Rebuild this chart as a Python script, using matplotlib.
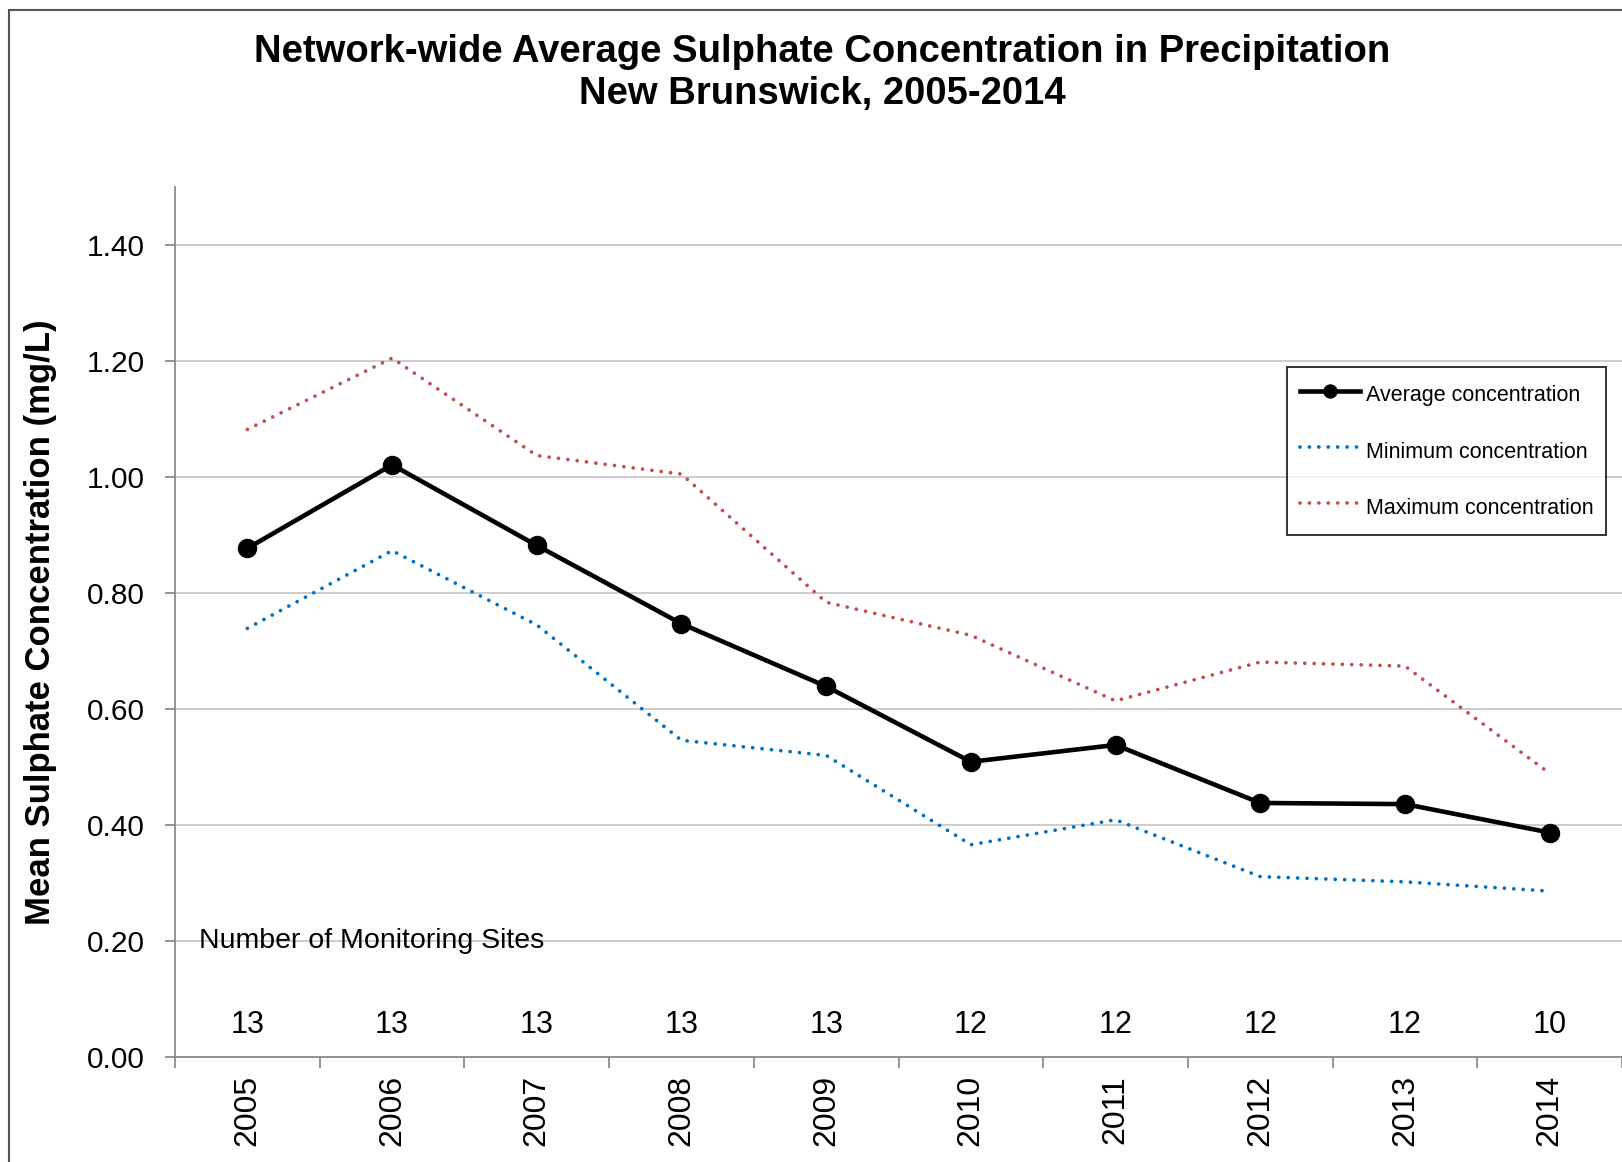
import matplotlib
matplotlib.use("Agg")
import matplotlib.pyplot as plt
from matplotlib.patches import Rectangle
import numpy as np

years = ["2005", "2006", "2007", "2008", "2009", "2010", "2011", "2012", "2013", "2014"]
average = [0.877, 1.021, 0.882, 0.747, 0.639, 0.509, 0.538, 0.438, 0.436, 0.387]
minimum = [0.739, 0.873, 0.745, 0.546, 0.520, 0.366, 0.409, 0.311, 0.302, 0.286]
maximum = [1.082, 1.205, 1.037, 1.005, 0.784, 0.727, 0.614, 0.681, 0.674, 0.489]
sites = [13, 13, 13, 13, 13, 12, 12, 12, 12, 10]
yticks = [0.0, 0.2, 0.4, 0.6, 0.8, 1.0, 1.2, 1.4]

plt.rcParams['font.family'] = ['Liberation Sans', 'DejaVu Sans']

W, H = 1622, 1162
AX_L, AX_R, AX_T, AX_B = 175, 1622, 187, 1057
fig = plt.figure(figsize=(W / 100, H / 100), dpi=100)
ax = fig.add_axes([AX_L / W, 1 - AX_B / H, (AX_R - AX_L) / W, (AX_B - AX_T) / H])

x = np.arange(len(years))
spine_col = '#8c8c8c'
grid_col = '#c8c8c8'

ax.plot(x, maximum, color='#C0504D', lw=2.7, linestyle=(0, (0.01, 2.5)),
        dash_capstyle='round', label='Maximum concentration', zorder=3)
ax.plot(x, minimum, color='#0070C0', lw=2.7, linestyle=(0, (0.01, 2.5)),
        dash_capstyle='round', label='Minimum concentration', zorder=3)
ax.plot(x, average, color='black', lw=3.3, marker='o', markersize=13,
        label='Average concentration', zorder=4)

ax.set_xlim(-0.5, len(years) - 0.5)
ax.set_ylim(0, 1.5)
ax.set_yticks(yticks)
ax.set_yticklabels([f"{v:.2f}" for v in yticks], fontsize=21.5)
ax.yaxis.grid(True, color=grid_col, lw=1.3)
ax.set_axisbelow(True)

ax.set_xticks(x)
ax.set_xticklabels(years, rotation=90, fontsize=23)
ax.set_xticks(np.arange(-0.5, len(years), 1.0), minor=True)
ax.tick_params(axis='x', which='major', length=0, pad=13)
ax.tick_params(axis='x', which='minor', length=8, color=spine_col, width=1.3)
ax.tick_params(axis='y', which='major', length=7, color=spine_col, width=1.3, pad=15)

for s in ['top', 'right']:
    ax.spines[s].set_visible(False)
for s in ['left', 'bottom']:
    ax.spines[s].set_color(spine_col)
    ax.spines[s].set_linewidth(1.3)

for xi, n in zip(x, sites):
    ax.text(xi, 0.056, str(n), ha='center', va='center', fontsize=22)
ax.text(-0.335, 0.2, "Number of Monitoring Sites", ha='left', va='center', fontsize=20.5)

ax.set_ylabel("Mean Sulphate Concentration (mg/L)", fontsize=25, fontweight='bold')
ax.yaxis.set_label_coords((41 - AX_L) / (AX_R - AX_L), 0.5)
ax.yaxis.label.set_va('center')

fig.text(0.507, 1 - 52 / H, "Network-wide Average Sulphate Concentration in Precipitation",
         ha='center', va='center', fontsize=27.5, fontweight='bold')
fig.text(0.507, 1 - 94 / H, "New Brunswick, 2005-2014",
         ha='center', va='center', fontsize=27.5, fontweight='bold')

handles, labels = ax.get_legend_handles_labels()
order = [2, 1, 0]
leg = ax.legend([handles[i] for i in order], [labels[i] for i in order],
                loc='upper left',
                bbox_to_anchor=((1287 - AX_L) / (AX_R - AX_L), (AX_B - 367) / (AX_B - AX_T)),
                fontsize=15.5, frameon=True, fancybox=False, edgecolor='black',
                labelspacing=1.27, handleheight=1.7, handlelength=2.8, handletextpad=0.25,
                borderpad=0.6, borderaxespad=0, markerscale=0.72)
leg.get_frame().set_linewidth(1.4)

fig.patches.append(Rectangle((9 / W, -0.05), 1.1, 1 - 10 / H + 0.05, transform=fig.transFigure,
                             fill=False, edgecolor='#555555', lw=1.5))

fig.savefig("out.png", dpi=100)
